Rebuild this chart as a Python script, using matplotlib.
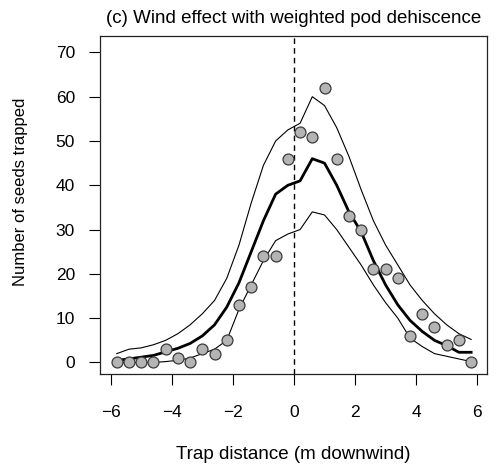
import numpy as np
import matplotlib
matplotlib.use('Agg')
import matplotlib.pyplot as plt

plt.rcParams['font.family'] = ['Liberation Sans', 'DejaVu Sans']

# trap positions (m downwind), 0.4 m apart, no trap at 0
distance = [-5.8, -5.4, -5.0, -4.6, -4.2, -3.8, -3.4, -3.0, -2.6, -2.2,
            -1.8, -1.4, -1.0, -0.6, -0.2, 0.2, 0.6, 1.0, 1.4, 1.8,
            2.2, 2.6, 3.0, 3.4, 3.8, 4.2, 4.6, 5.0, 5.4, 5.8]

# observed seeds per trap
observed = [0, 0, 0, 0, 3, 1, 0, 3, 2, 5,
            13, 17, 24, 24, 46, 52, 51, 62, 46, 33,
            30, 21, 21, 19, 6, 11, 8, 4, 5, 0]

# model mean and envelope
model_mean = [0.5, 0.8, 1.2, 1.6, 2.4, 3.2, 4.3, 6.0, 8.5, 12.5,
              18.0, 25.0, 32.0, 38.0, 40.0, 41.0, 46.0, 45.0, 40.0, 34.0,
              29.5, 23.0, 17.5, 13.0, 9.5, 7.0, 5.0, 3.8, 2.3, 2.3]
model_upper = [2.0, 3.0, 3.3, 4.0, 5.0, 6.5, 8.5, 11.0, 14.0, 19.0,
               26.5, 36.0, 44.5, 50.0, 52.5, 54.0, 60.0, 58.0, 53.0, 46.5,
               39.0, 32.0, 26.5, 22.0, 17.5, 14.0, 11.0, 8.5, 6.5, 5.2]
model_lower = [0.0, 0.0, 0.0, 0.0, 0.2, 0.5, 1.0, 2.0, 3.0, 5.0,
               12.0, 17.5, 23.0, 27.5, 29.0, 30.0, 34.0, 33.3, 30.0, 26.0,
               22.0, 17.5, 13.5, 10.0, 5.5, 3.6, 2.0, 1.4, 0.8, 0.2]

fig = plt.figure(figsize=(4.96, 4.73), dpi=100)
ax = fig.add_axes([0.2016, 0.2093, 0.9819 - 0.2016, 0.9239 - 0.2093])

ax.axvline(0, color='black', lw=1.0, ls=(0, (4, 3)), zorder=1)
ax.plot(distance, model_upper, color='black', lw=0.8, zorder=2)
ax.plot(distance, model_lower, color='black', lw=0.8, zorder=2)
ax.plot(distance, model_mean, color='black', lw=2.0, zorder=3)
ax.scatter(distance, observed, s=62, facecolor='#b4b4b4', edgecolor='#3a3a3a',
           linewidth=0.9, zorder=4)

ax.set_xlim(-6.35, 6.32)
ax.set_ylim(-2.6, 73.7)
ax.set_xticks([-6, -4, -2, 0, 2, 4, 6])
ax.set_xticklabels(['\u22126', '\u22124', '\u22122', '0', '2', '4', '6'])
ax.set_yticks(range(0, 71, 10))

ax.tick_params(direction='out', length=8, width=0.8, labelsize=12.5)
ax.tick_params(axis='y', pad=10)
ax.tick_params(axis='x', pad=14)
for s in ax.spines.values():
    s.set_linewidth(0.9)
    s.set_color('#222222')

ax.set_title('(c) Wind effect with weighted pod dehiscence', fontsize=13.5, pad=9)
ax.set_xlabel('Trap distance (m downwind)', fontsize=13.5, labelpad=19)
ax.set_ylabel('Number of seeds trapped', fontsize=12, labelpad=20)
# label sits a little above the middle of the axis in the original
ax.yaxis.label.set_y(0.54)

fig.savefig('out.png', dpi=100)
